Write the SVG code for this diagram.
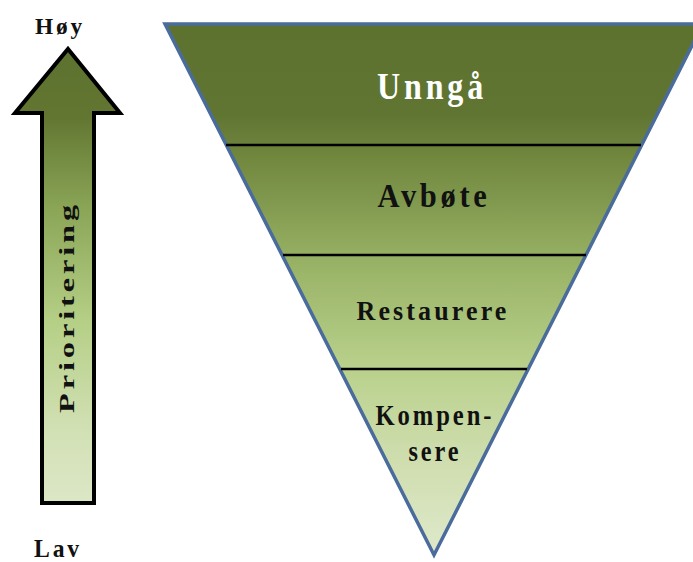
<svg xmlns="http://www.w3.org/2000/svg" width="693" height="562" viewBox="0 0 693 562">
<defs>
<linearGradient id="gTri" gradientUnits="userSpaceOnUse" x1="0" y1="24" x2="0" y2="555">
<stop offset="0" stop-color="#5e722f"/>
<stop offset="0.17" stop-color="#617533"/>
<stop offset="0.26" stop-color="#72893f"/>
<stop offset="0.45" stop-color="#98b265"/>
<stop offset="0.65" stop-color="#b9d18c"/>
<stop offset="0.8" stop-color="#cddcab"/>
<stop offset="1" stop-color="#dfe9cb"/>
</linearGradient>
<linearGradient id="gArr" gradientUnits="userSpaceOnUse" x1="0" y1="49" x2="0" y2="503">
<stop offset="0" stop-color="#5e722f"/>
<stop offset="0.15" stop-color="#627632"/>
<stop offset="0.35" stop-color="#8aa556"/>
<stop offset="0.6" stop-color="#b5cf86"/>
<stop offset="0.85" stop-color="#d3e1b6"/>
<stop offset="1" stop-color="#dce7c6"/>
</linearGradient>
</defs>
<style>
.lbl{font-family:"Liberation Serif","Times New Roman",serif;font-weight:bold;text-anchor:middle;fill:#111;letter-spacing:0.12em}
.band{stroke:#000;stroke-width:2.5}
</style>
<g id="triangle">
<polygon points="165,24 703,24 434,555" fill="url(#gTri)" stroke="#4a6c9c" stroke-width="3.5" stroke-linejoin="miter"/>
</g>
<g id="connectors">
<line class="band" x1="226" y1="145" x2="641" y2="145"/>
<line class="band" x1="283" y1="255" x2="586" y2="255"/>
<line class="band" x1="341" y1="369" x2="527" y2="369"/>
</g>
<g id="unnga">
<text class="lbl" x="432" y="99" font-size="38" textLength="110" lengthAdjust="spacingAndGlyphs" style="fill:#ffffff">Unngå</text>
</g>
<g id="avbote">
<text class="lbl" x="434" y="207" font-size="33" textLength="113" lengthAdjust="spacingAndGlyphs">Avbøte</text>
</g>
<g id="restaurere">
<text class="lbl" x="433" y="320" font-size="28" textLength="153" lengthAdjust="spacingAndGlyphs">Restaurere</text>
</g>
<g id="kompensere">
<text class="lbl" x="435" y="425" font-size="30" textLength="119" lengthAdjust="spacingAndGlyphs">Kompen-</text>
<text class="lbl" x="435" y="461" font-size="30" textLength="53" lengthAdjust="spacingAndGlyphs">sere</text>
</g>
<g id="arrow">
<polygon points="68,49 120,113 94,113 94,503 42,503 42,113 15,113" fill="url(#gArr)" stroke="#000" stroke-width="4" stroke-linejoin="miter"/>
<text class="lbl" transform="translate(74,307) rotate(-90)" x="0" y="0" font-size="22" textLength="212" lengthAdjust="spacingAndGlyphs">Prioritering</text>
</g>
<g id="hoy">
<text class="lbl" x="60" y="34" font-size="24" textLength="50" lengthAdjust="spacingAndGlyphs">Høy</text>
</g>
<g id="lav">
<text class="lbl" x="58" y="557" font-size="25" textLength="48" lengthAdjust="spacingAndGlyphs">Lav</text>
</g>
</svg>
